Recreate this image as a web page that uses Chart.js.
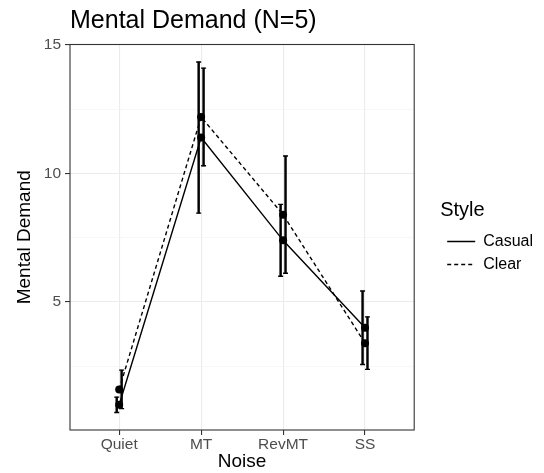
<!DOCTYPE html>
<html>
<head>
<meta charset="utf-8">
<script src="https://cdn.jsdelivr.net/npm/chart.js@4.4.1/dist/chart.umd.min.js"></script>
<style>
  html, body { margin: 0; padding: 0; background: #fff; }
  #wrap { width: 544px; height: 473px; }
</style>
</head>
<body>
<div id="wrap"><canvas id="chart" width="544" height="473"></canvas></div>
<script>
// Mental demand by noise condition, two speaking styles, with error bars

const noiseLevels = ['Quiet', 'MT', 'RevMT', 'SS'];
const casualMean = [1.0, 11.4, 7.4, 4.0];
const clearMean = [1.6, 12.2, 8.4, 3.4];
const casualErr = [0.3, 2.94, 1.4, 1.43];
const clearErr = [0.75, 1.9, 2.28, 1.02];
const yTickValues = [5, 10, 15];
const yMinorValues = [2.5, 7.5, 12.5];

const FONT = 'Liberation Sans, Arial, Helvetica, sans-serif';
const DODGE = 0.03; // error bars are nudged a little left / right

Chart.defaults.font.family = FONT;
Chart.defaults.color = '#000';

function meanPoints(means) {
  return means.map((v, i) => ({ x: i + 1, y: v }));
}
function barPoints(means, errs, shift) {
  return means.map((v, i) => ({ x: i + 1 + shift, y: [v - errs[i], v + errs[i]] }));
}
function capPoints(means, errs, shift) {
  const pts = [];
  means.forEach((v, i) => {
    pts.push({ x: i + 1 + shift, y: v - errs[i] });
    pts.push({ x: i + 1 + shift, y: v + errs[i] });
  });
  return pts;
}

// ggplot-like panel border drawn all the way round
const panelBorder = {
  id: 'panelBorder',
  afterDatasetsDraw(chart) {
    const { ctx, chartArea: a } = chart;
    ctx.save();
    ctx.strokeStyle = '#333333';
    ctx.lineWidth = 1.1;
    ctx.strokeRect(a.left, a.top, a.right - a.left, a.bottom - a.top);
    ctx.restore();
  }
};

const isMajor = v => yTickValues.includes(v);

const ctx = document.getElementById('chart').getContext('2d');
new Chart(ctx, {
  type: 'line',
  data: {
    datasets: [
      {
        label: 'Casual',
        inLegend: true,
        data: meanPoints(casualMean),
        borderColor: '#000',
        borderWidth: 1.4,
        pointRadius: 4,
        pointHoverRadius: 4,
        pointBackgroundColor: '#000',
        pointBorderWidth: 0,
        tension: 0
      },
      {
        label: 'Clear',
        inLegend: true,
        data: meanPoints(clearMean),
        borderColor: '#000',
        borderWidth: 1.4,
        borderDash: [4, 3],
        pointRadius: 4,
        pointHoverRadius: 4,
        pointBackgroundColor: '#000',
        pointBorderWidth: 0,
        tension: 0
      },
      {
        type: 'bar',
        label: 'Casual err',
        data: barPoints(casualMean, casualErr, -DODGE),
        backgroundColor: '#000',
        borderWidth: 0,
        barThickness: 1.8,
        grouped: false
      },
      {
        type: 'bar',
        label: 'Clear err',
        data: barPoints(clearMean, clearErr, DODGE),
        backgroundColor: '#000',
        borderWidth: 0,
        barThickness: 1.8,
        grouped: false
      },
      {
        label: 'Casual caps',
        data: capPoints(casualMean, casualErr, -DODGE),
        showLine: false,
        pointStyle: 'line',
        pointRadius: 2.5,
        pointHoverRadius: 2.5,
        pointBorderColor: '#000',
        pointBorderWidth: 1.4
      },
      {
        label: 'Clear caps',
        data: capPoints(clearMean, clearErr, DODGE),
        showLine: false,
        pointStyle: 'line',
        pointRadius: 2.5,
        pointHoverRadius: 2.5,
        pointBorderColor: '#000',
        pointBorderWidth: 1.4
      }
    ]
  },
  options: {
    responsive: false,
    animation: false,
    devicePixelRatio: 1,
    layout: { padding: { left: 5, right: 1, top: 2, bottom: 0 } },
    plugins: {
      title: {
        display: true,
        text: 'Mental Demand (N=5)',
        align: 'start',
        fullSize: false,
        color: '#000',
        font: { family: FONT, size: 25, weight: 'normal' },
        padding: { top: 4, bottom: 8.5 }
      },
      legend: {
        position: 'right',
        align: 'center',
        maxWidth: 200,
        title: {
          display: true,
          text: 'Style',
          position: 'start',
          color: '#000',
          font: { family: FONT, size: 20 },
          padding: { top: 5, bottom: 2 }
        },
        labels: {
          usePointStyle: true,
          pointStyleWidth: 28,
          padding: 7,
          color: '#000',
          font: { family: FONT, size: 16 },
          generateLabels(chart) {
            return chart.data.datasets
              .map((ds, i) => ({ ds, i }))
              .filter(o => o.ds.inLegend)
              .map(o => ({
                text: o.ds.label,
                fillStyle: 'rgba(0,0,0,0)',
                strokeStyle: '#000',
                lineWidth: 1.4,
                lineDash: o.ds.borderDash || [],
                pointStyle: 'line',
                fontColor: '#000',
                hidden: false,
                datasetIndex: o.i
              }));
          }
        }
      },
      tooltip: { enabled: false }
    },
    scales: {
      x: {
        type: 'linear',
        min: 0.4,
        max: 4.6,
        offset: false,
        afterBuildTicks: s => { s.ticks = noiseLevels.map((_, i) => ({ value: i + 1 })); },
        afterFit: s => { s.height = 43; },
        ticks: {
          callback: v => noiseLevels[v - 1],
          color: '#4D4D4D',
          font: { family: FONT, size: 15.5 },
          padding: 0,
          autoSkip: false,
          maxRotation: 0
        },
        grid: {
          offset: false,
          color: '#EBEBEB',
          lineWidth: 1.1,
          tickColor: '#333333',
          tickLength: 5,
          tickWidth: 1.1
        },
        border: { display: false },
        title: {
          display: true,
          text: 'Noise',
          color: '#000',
          font: { family: FONT, size: 19 },
          padding: { top: 0, bottom: 0 }
        }
      },
      y: {
        type: 'linear',
        min: 0.02,
        max: 15.02,
        afterBuildTicks: s => {
          s.ticks = [...yMinorValues, ...yTickValues].sort((a, b) => a - b).map(v => ({ value: v }));
        },
        afterFit: s => { s.width = 65; },
        ticks: {
          callback: v => (isMajor(v) ? String(v) : ''),
          color: '#4D4D4D',
          font: { family: FONT, size: 15.5 },
          padding: 4
        },
        grid: {
          color: c => (isMajor(c.tick && c.tick.value) ? '#EBEBEB' : '#F2F2F2'),
          lineWidth: c => (isMajor(c.tick && c.tick.value) ? 1.1 : 0.6),
          tickColor: c => (isMajor(c.tick && c.tick.value) ? '#333333' : 'rgba(0,0,0,0)'),
          tickLength: 5,
          tickWidth: 1.1
        },
        border: { display: false },
        title: {
          display: true,
          text: 'Mental Demand',
          color: '#000',
          font: { family: FONT, size: 19 },
          padding: { top: 8, bottom: 0 }
        }
      },
      spacer: {
        type: 'linear',
        position: 'right',
        display: true,
        grid: { display: false },
        ticks: { display: false },
        border: { display: false },
        afterFit: s => { s.width = 26; }
      }
    }
  },
  plugins: [panelBorder]
});
</script>
</body>
</html>
